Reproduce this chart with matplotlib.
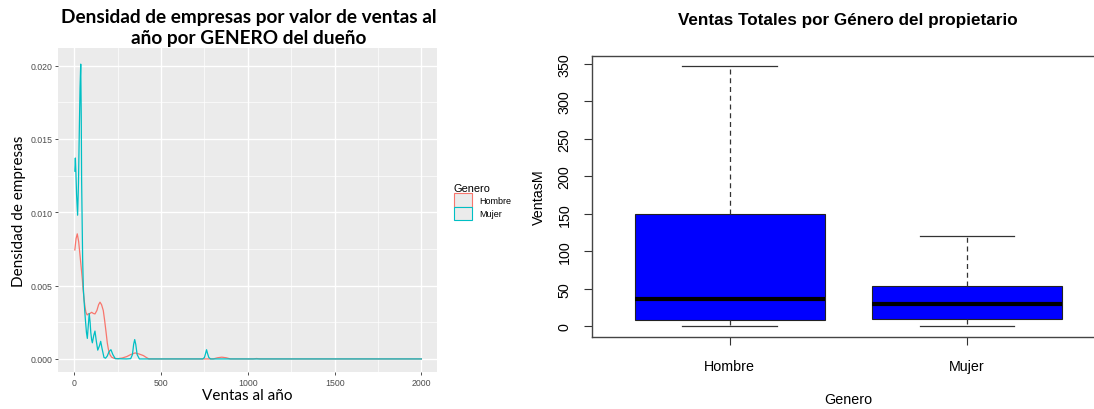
import matplotlib
matplotlib.use("Agg")
import matplotlib.pyplot as plt
from matplotlib.patches import Patch
from matplotlib.ticker import MultipleLocator

# density of companies by yearly sales, per owner gender
hombre_x = [3, 10, 17, 25, 33, 40, 46, 51, 56, 62, 67, 74, 81, 90, 100, 110, 119, 130,
            140, 148, 157, 167, 175, 183, 190, 196, 205, 215, 230, 250, 275, 302, 325,
            350, 375, 398, 415, 430, 600, 800, 825, 850, 875, 900, 1030, 1050, 1070, 2000]
hombre_y = [0.00743, 0.0082, 0.00853, 0.0080, 0.00705, 0.0062, 0.00546, 0.0047, 0.0041,
            0.0035, 0.00318, 0.0030, 0.00307, 0.0031, 0.00318, 0.0031, 0.00307, 0.0033,
            0.0037, 0.00387, 0.0037, 0.0033, 0.0026, 0.00182, 0.0011, 0.00068, 0.0003,
            0.00012, 0.00004, 0.00002, 0.00006, 0.00016, 0.0003, 0.00041, 0.00033,
            0.00023, 0.0001, 0.0, 0.0, 0.0, 0.00008, 0.00012, 0.00008, 0.0, 0.0,
            0.00003, 0.0, 0.0]

mujer_x = [3, 6, 9, 13, 19, 24, 28, 33, 37, 40, 42, 45, 48, 52, 56, 63, 70, 75, 80,
           86, 91, 95, 100, 104, 112, 119, 127, 135, 145, 152, 160, 171, 180, 190,
           200, 211, 222, 236, 300, 325, 335, 342, 348, 354, 362, 375, 740, 750,
           757, 762, 767, 775, 785, 2000]
mujer_y = [0.0128, 0.0137, 0.0128, 0.0112, 0.0098, 0.0120, 0.0150, 0.0185, 0.0201,
           0.0165, 0.0123, 0.0095, 0.0068, 0.0048, 0.0040, 0.0028, 0.0018, 0.0014,
           0.0022, 0.0031, 0.0025, 0.0018, 0.0013, 0.0011, 0.0016, 0.0019, 0.0012,
           0.0006, 0.0009, 0.0012, 0.0007, 0.0001, 0.00005, 0.0002, 0.0005, 0.00063,
           0.0003, 0.00002, 0.0, 0.00002, 0.0003, 0.0010, 0.00132, 0.0010, 0.0003,
           0.0, 0.0, 0.0001, 0.0004, 0.00063, 0.0004, 0.0001, 0.0, 0.0]

# boxplot five-number summaries (VentasM)
generos = ["Hombre", "Mujer"]
whisker_lo = [0, 0]
q1 = [9, 10]
mediana = [36, 30]
q3 = [150, 54]
whisker_hi = [347, 120]

col_h = "#F8766D"
col_m = "#00BFC4"

fig = plt.figure(figsize=(10.94, 4.10), dpi=100)
fig.patch.set_facecolor("white")

# ---- left: ggplot-style density plot ----
ax1 = fig.add_axes([58 / 1094, 1 - 373 / 410, 379 / 1094, 324 / 410])
ax1.set_facecolor("#EBEBEB")
ax1.plot(hombre_x, hombre_y, color=col_h, lw=0.9, zorder=3)
ax1.plot(mujer_x, mujer_y, color=col_m, lw=0.9, zorder=4)
ax1.set_xlim(-94, 2090)
ax1.set_ylim(-0.00089, 0.0212)
ax1.xaxis.set_major_locator(MultipleLocator(500))
ax1.xaxis.set_minor_locator(MultipleLocator(250))
ax1.yaxis.set_major_locator(MultipleLocator(0.005))
ax1.yaxis.set_minor_locator(MultipleLocator(0.0025))
ax1.yaxis.set_major_formatter(plt.FuncFormatter(lambda v, p: f"{v:.3f}"))
ax1.grid(which="major", color="white", lw=1.0)
ax1.grid(which="minor", color="white", lw=0.5)
ax1.set_axisbelow(True)
for s in ax1.spines.values():
    s.set_visible(False)
ax1.tick_params(which="major", length=2.5, width=0.6, color="#333333",
                labelcolor="#4D4D4D", labelsize=6.3, pad=1.5)
ax1.tick_params(which="minor", length=0)
for lab in ax1.get_xticklabels() + ax1.get_yticklabels():
    lab.set_family("Liberation Sans")
ax1.set_xlabel("Ventas al año", family="Lato", fontsize=11, labelpad=1)
ax1.set_ylabel("Densidad de empresas", family="Lato", fontsize=11, labelpad=3)

fig.text(249 / 1094, 1 - 28 / 410,
         "Densidad de empresas por valor de ventas al\naño por GENERO del dueño",
         ha="center", va="center", family="Lato", fontweight="bold",
         fontsize=13.7, linespacing=1.35)

handles = [Patch(facecolor="#EBEBEB", edgecolor=col_h, lw=0.8, label="Hombre"),
           Patch(facecolor="#EBEBEB", edgecolor=col_m, lw=0.8, label="Mujer")]
leg = fig.legend(handles=handles, title="Genero", loc="upper left",
                 bbox_to_anchor=(454 / 1094, 1 - 184 / 410), frameon=False,
                 title_fontsize=7.9, handlelength=1.95,
                 handleheight=1.95, labelspacing=0.0, handletextpad=0.8,
                 borderpad=0, borderaxespad=0, alignment="left",
                 prop={"family": "Liberation Sans", "size": 6.5})
leg.get_title().set_family("Liberation Sans")

# ---- right: base-R-style boxplot ----
ax2 = fig.add_axes([592.3 / 1094, 1 - 337.7 / 410, 512.2 / 1094, 281 / 410])
stats = []
for i, g in enumerate(generos):
    stats.append({"label": g, "whislo": whisker_lo[i], "q1": q1[i],
                  "med": mediana[i], "q3": q3[i], "whishi": whisker_hi[i]})
ax2.bxp(stats, positions=[1, 2], widths=0.8, showfliers=False, patch_artist=True,
        boxprops=dict(facecolor="#0000FF", edgecolor="#222222", lw=0.8),
        medianprops=dict(color="black", lw=3, solid_capstyle="butt"),
        whiskerprops=dict(color="#333333", lw=0.9, linestyle=(0, (4, 3))),
        capprops=dict(color="#333333", lw=0.9))
ax2.set_xlim(0.42, 2.58)
ax2.set_ylim(-13.9, 360.9)
ax2.set_yticks([0, 50, 100, 150, 200, 250, 300, 350])
ax2.set_xticks([1, 2])
ax2.set_xticklabels(generos)
for s in ax2.spines.values():
    s.set_color("#444444")
    s.set_linewidth(1.0)
ax2.tick_params(axis="both", length=6, width=0.8, color="#333333",
                labelsize=10.3, pad=10)
ax2.tick_params(axis="y", pad=9)
for lab in ax2.get_yticklabels():
    lab.set_rotation(90)
    lab.set_va("center")
for lab in ax2.get_xticklabels() + ax2.get_yticklabels():
    lab.set_family("Liberation Sans")
ax2.set_xlabel("Genero", family="Liberation Sans", fontsize=10.3, labelpad=14)
ax2.set_ylabel("VentasM", family="Liberation Sans", fontsize=10.3, labelpad=8)
fig.text(848 / 1094, 1 - 21 / 410, "Ventas Totales por Género del propietario",
         ha="center", va="center", family="Liberation Sans", fontweight="bold",
         fontsize=12.3)

fig.savefig("out.png", dpi=100)
